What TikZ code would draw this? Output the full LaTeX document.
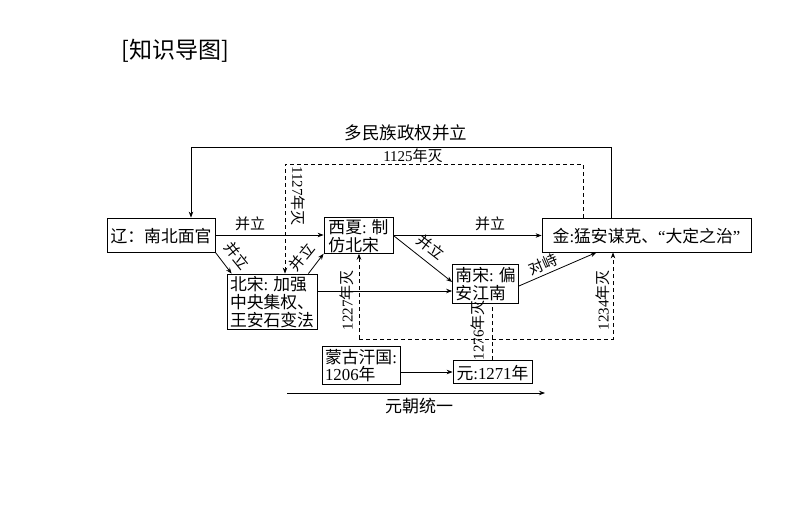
\documentclass[tikz,border=0pt]{standalone}
\usepackage{fontspec}
\setmainfont{Liberation Serif}
\newfontfamily\cjk{Noto Sans CJK SC}
\usetikzlibrary{arrows.meta}
\newcommand\nm[1]{{\rmfamily #1}}
\tikzset{
  box/.style={draw, line width=0.8pt, inner sep=2pt, align=left, anchor=center,
    font=\cjk\fontsize{16.8}{17.6}\selectfont, text depth=0pt},
  lab/.style={inner sep=0pt, font=\cjk\fontsize{15}{15}\selectfont},
  conn/.style={line width=0.8pt, -{Stealth[length=6pt,width=4.5pt]}},
  dconn/.style={conn, dash pattern=on 4pt off 3pt},
  dline/.style={line width=0.8pt, dash pattern=on 4pt off 3pt},
}
\begin{document}
\begin{tikzpicture}[x=1pt,y=-1pt]
\useasboundingbox[fill=white] (0,0) rectangle (794,522);
\node[inner sep=0pt, font=\cjk\fontsize{23}{24}\selectfont] (title) at (175,51) {[知识导图]};

% boxes
\node[box, minimum width=108pt, minimum height=34pt] (liao) at (161,235) {辽：南北面官};
\node[box, minimum width=69pt, minimum height=35pt] (xixia) at (358.5,235.5) {西夏\nm{:} 制\\仿北宋};
\node[box, minimum width=209pt, minimum height=34pt] (jin) at (646.5,235) {金\nm{:}猛安谋克、\nm{“}大定之治\nm{”}};
\node[box, minimum width=90pt, minimum height=55pt] (beisong) at (272,301.5) {北宋\nm{:} 加强\\中央集权、\\王安石变法};
\node[box, minimum width=66pt, minimum height=39pt] (nansong) at (485.5,283.5) {南宋\nm{:} 偏\\安江南};
\node[box, minimum width=78pt, minimum height=38pt] (menggu) at (361,365) {蒙古汗国\nm{:}\\\nm{1206}年};
\node[box, minimum width=79pt, minimum height=23pt] (yuan) at (492.5,372) {元\nm{:}\nm{1271}年};

% top solid loop
\coordinate (t1) at (611,147);
\coordinate (t2) at (191,147);
\draw[conn] (jin.north -| t1) -- (t1) -- (t2) -- (liao.north -| t2);
\node[lab, font=\cjk\fontsize{17.5}{18}\selectfont] (l0) at (406,133) {多民族政权并立};

% dashed 1125 / 1127
\coordinate (t3) at (583,164);
\coordinate (t4) at (285,164);
\draw[dconn] (jin.north -| t3) -- (t3) -- (t4) -- (beisong.north -| t4);
\node[lab] (l1) at (413,156) {\nm{1125}年灭};
\node[lab, rotate=-90] (l2) at (298,196) {\nm{1127}年灭};

% solid connectors
\draw[conn] (liao.east) -- (liao.east -| xixia.west);
\node[lab] (l3) at (250,224) {并立};
\draw[conn] (liao.south east) -- ([xshift=5pt]beisong.north west);
\node[lab, rotate=-51] (l4) at (237,256) {并立};
\draw[conn] ([xshift=-9pt]beisong.north east) -- (xixia.south west);
\node[lab, rotate=51] (l5) at (302,257) {并立};
\draw[conn] (xixia.east) -- (xixia.east -| jin.west);
\node[lab] (l6) at (490,224) {并立};
\draw[conn] (xixia.east) -- ([yshift=1.5pt]nansong.west);
\node[lab, rotate=-38] (l7) at (431,247) {并立};
\coordinate (bs) at ([yshift=10.5pt]beisong.east);
\draw[conn] (bs) -- (bs -| nansong.west);
\draw[conn] ([yshift=-2.5pt]nansong.east) -- ([xshift=-50pt]jin.south);
\node[lab, rotate=23] (l8) at (543,264) {对峙};
\draw[conn] (yuan.west -| menggu.east) -- (yuan.west);

% dashed lower
\coordinate (d1) at (359,339);
\coordinate (d2) at (613,339);
\coordinate (d3) at (492,339);
\draw[dconn] (d1) -- (xixia.south -| d1);
\draw[dconn] (d1) -- (d2) -- (jin.south -| d2);
\draw[dline] (yuan.north -| d3) -- (nansong.south -| d3);
\node[lab, rotate=90] (l9) at (347,300) {\nm{1227}年灭};
\node[lab, rotate=90] (l10) at (603,300) {\nm{1234}年灭};
\node[lab, rotate=90] (l11) at (478,330) {\nm{1276}年灭};

% bottom arrow
\coordinate (b1) at (287,393);
\coordinate (b2) at (545,393);
\draw[conn] (b1) -- (b2);
\node[lab, font=\cjk\fontsize{17}{18}\selectfont] (l12) at (419,406) {元朝统一};
\end{tikzpicture}
\end{document}
